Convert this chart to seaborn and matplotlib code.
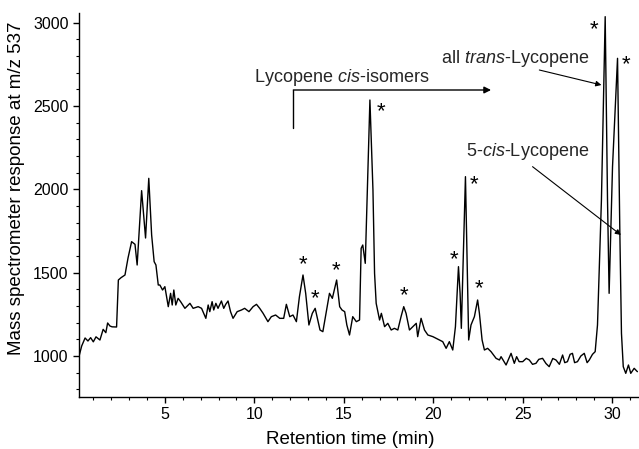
import pandas as pd
import seaborn as sns
import matplotlib.pyplot as plt
from matplotlib.ticker import MultipleLocator

# --- chromatogram trace (retention time in min, MS response) ---
tempo = [0.22, 0.35, 0.54, 0.7, 0.85, 1.0, 1.15, 1.37, 1.55, 1.7, 1.8, 1.93, 2.05, 2.3,
         2.4, 2.55, 2.77, 2.94, 3.14, 3.33, 3.45, 3.7, 3.92, 4.1, 4.26, 4.4, 4.5, 4.63,
         4.72, 4.87, 5.0, 5.19, 5.32, 5.41, 5.5, 5.61, 5.74, 5.88, 6.12, 6.4, 6.58, 6.86,
         7.05, 7.29, 7.42, 7.51, 7.64, 7.73, 7.85, 7.97, 8.16, 8.29, 8.4, 8.53, 8.67, 8.81,
         9.04, 9.28, 9.46, 9.7, 9.93, 10.12, 10.3, 10.49, 10.76, 10.95, 11.19, 11.42, 11.64,
         11.79, 11.98, 12.16, 12.35, 12.52, 12.72, 12.87, 13.05, 13.24, 13.4, 13.67, 13.83,
         14.02, 14.2, 14.36, 14.6, 14.77, 14.9, 15.05, 15.17, 15.32, 15.5, 15.7, 15.88,
         15.97, 16.06, 16.2, 16.46, 16.63, 16.72, 16.81, 17.0, 17.1, 17.28, 17.46, 17.65,
         17.83, 18.02, 18.2, 18.35, 18.48, 18.67, 18.86, 19.05, 19.13, 19.32, 19.51, 19.7,
         19.98, 20.34, 20.53, 20.72, 20.9, 21.09, 21.24, 21.41, 21.5, 21.57, 21.68, 21.8,
         21.87, 21.98, 22.11, 22.3, 22.48, 22.58, 22.73, 22.86, 23.04, 23.23, 23.51, 23.7,
         23.79, 24.07, 24.35, 24.53, 24.66, 24.8, 25.0, 25.2, 25.37, 25.55, 25.74, 25.9,
         26.11, 26.3, 26.48, 26.68, 26.86, 27.05, 27.23, 27.35, 27.5, 27.65, 27.78, 27.9,
         28.06, 28.25, 28.44, 28.6, 28.72, 28.9, 29.05, 29.18, 29.4, 29.53, 29.61, 29.74,
         29.83, 30.02, 30.3, 30.43, 30.52, 30.62, 30.76, 30.91, 31.04, 31.23, 31.41]

resposta = [1006, 1060, 1108, 1090, 1110, 1085, 1115, 1096, 1160, 1140, 1198, 1180, 1175, 1174,
            1456, 1470, 1486, 1588, 1686, 1670, 1546, 1992, 1708, 2066, 1726, 1566, 1546, 1426,
            1426, 1396, 1416, 1296, 1376, 1306, 1396, 1306, 1346, 1326, 1286, 1316, 1286, 1296,
            1286, 1226, 1306, 1266, 1326, 1276, 1316, 1286, 1330, 1286, 1310, 1330, 1266, 1226,
            1266, 1276, 1286, 1266, 1296, 1310, 1286, 1256, 1206, 1236, 1246, 1226, 1226,
            1310, 1236, 1246, 1206, 1356, 1486, 1376, 1186, 1256, 1286, 1156, 1146,
            1266, 1376, 1346, 1456, 1296, 1276, 1266, 1186, 1126, 1236, 1206, 1216,
            1646, 1666, 1556, 2536, 1996, 1496, 1316, 1216, 1256, 1176, 1196, 1156,
            1166, 1156, 1236, 1296, 1256, 1156, 1176, 1196, 1116, 1226, 1156, 1126,
            1116, 1096, 1086, 1046, 1086, 1036, 1176, 1536, 1376, 1166, 1596, 2076,
            1696, 1096, 1186, 1236, 1336, 1256, 1096, 1036, 1046, 1026, 986, 976,
            996, 946, 1016, 956, 996, 966, 966, 986, 976, 950, 956, 980,
            986, 955, 936, 985, 976, 950, 1006, 960, 966, 1010, 1016, 960,
            966, 1000, 1016, 960, 976, 1010, 1026, 1186, 1936, 2636, 3036, 1936,
            1376, 2136, 2786, 1736, 1136, 936, 896, 946, 896, 926, 906]

# picos marcados com asterisco (tempo, resposta)
ast_tempo = [12.72, 13.37, 14.58, 17.09, 18.39, 21.18, 22.3, 22.58, 29.0, 30.76]
ast_resp = [1546, 1342, 1510, 2466, 1360, 1580, 2026, 1402, 2956, 2746]

df = pd.DataFrame({'tempo': tempo, 'resposta': resposta})

sns.set_style('ticks')
plt.rcParams['font.family'] = ['Liberation Sans', 'DejaVu Sans']
plt.rcParams['mathtext.fontset'] = 'custom'
plt.rcParams['mathtext.rm'] = 'Liberation Sans'
plt.rcParams['mathtext.it'] = 'Liberation Sans:italic'

fig = plt.figure(figsize=(6.39, 4.49), dpi=100)
ax = fig.add_axes([79 / 639, 1 - 397 / 449, 560 / 639, 384 / 449])

sns.lineplot(data=df, x='tempo', y='resposta', color='black', linewidth=1.0, ax=ax)

ax.set_xlim(0.2, 31.5)
ax.set_ylim(754, 3058)
ax.xaxis.set_major_locator(MultipleLocator(5))
ax.xaxis.set_minor_locator(MultipleLocator(1))
ax.yaxis.set_major_locator(MultipleLocator(500))
ax.yaxis.set_minor_locator(MultipleLocator(100))
ax.set_xticks([5, 10, 15, 20, 25, 30])
ax.tick_params(which='major', length=4, width=1, labelsize=11.5, color='black', labelcolor='black')
ax.tick_params(which='minor', length=2, width=0.8, color='black')
sns.despine(ax=ax)
for s in ['left', 'bottom']:
    ax.spines[s].set_linewidth(1.0)
    ax.spines[s].set_color('black')

ax.set_xlabel('Retention time (min)', fontsize=13.5, color='black', va='top')
ax.set_ylabel('Mass spectrometer response at m/z 537', fontsize=13.5, color='black')
ax.xaxis.set_label_coords(0.484, -0.088)
ax.yaxis.set_label_coords(-0.097, 0.544)

# asteriscos
for t, r in zip(ast_tempo, ast_resp):
    ax.text(t, r, '*', fontsize=16, ha='center', va='center', color='black')

# Lycopene cis-isomers com seta
ax.text(14.9, 2668, 'Lycopene $\\it{cis}$-isomers', fontsize=13, ha='center', va='center')
ax.plot([12.18, 12.18], [2370, 2596], color='black', linewidth=1.0)
ax.annotate('', xy=(23.23, 2596), xytext=(12.18, 2596),
            arrowprops=dict(arrowstyle='-|>', color='black', lw=1.0, mutation_scale=10,
                            shrinkA=0, shrinkB=0))

ax.text(24.6, 2786, 'all $\\it{trans}$-Lycopene', fontsize=13, ha='center', va='center')
ax.annotate('', xy=(29.4, 2626), xytext=(25.93, 2716),
            arrowprops=dict(arrowstyle='-|>', color='black', lw=0.8, mutation_scale=8,
                            shrinkA=0, shrinkB=0))
ax.text(25.3, 2226, '5-$\\it{cis}$-Lycopene', fontsize=13, ha='center', va='center')
ax.annotate('', xy=(30.49, 1726), xytext=(25.55, 2136),
            arrowprops=dict(arrowstyle='-|>', color='black', lw=0.8, mutation_scale=8,
                            shrinkA=0, shrinkB=0))

plt.savefig('out.png', dpi=100)
